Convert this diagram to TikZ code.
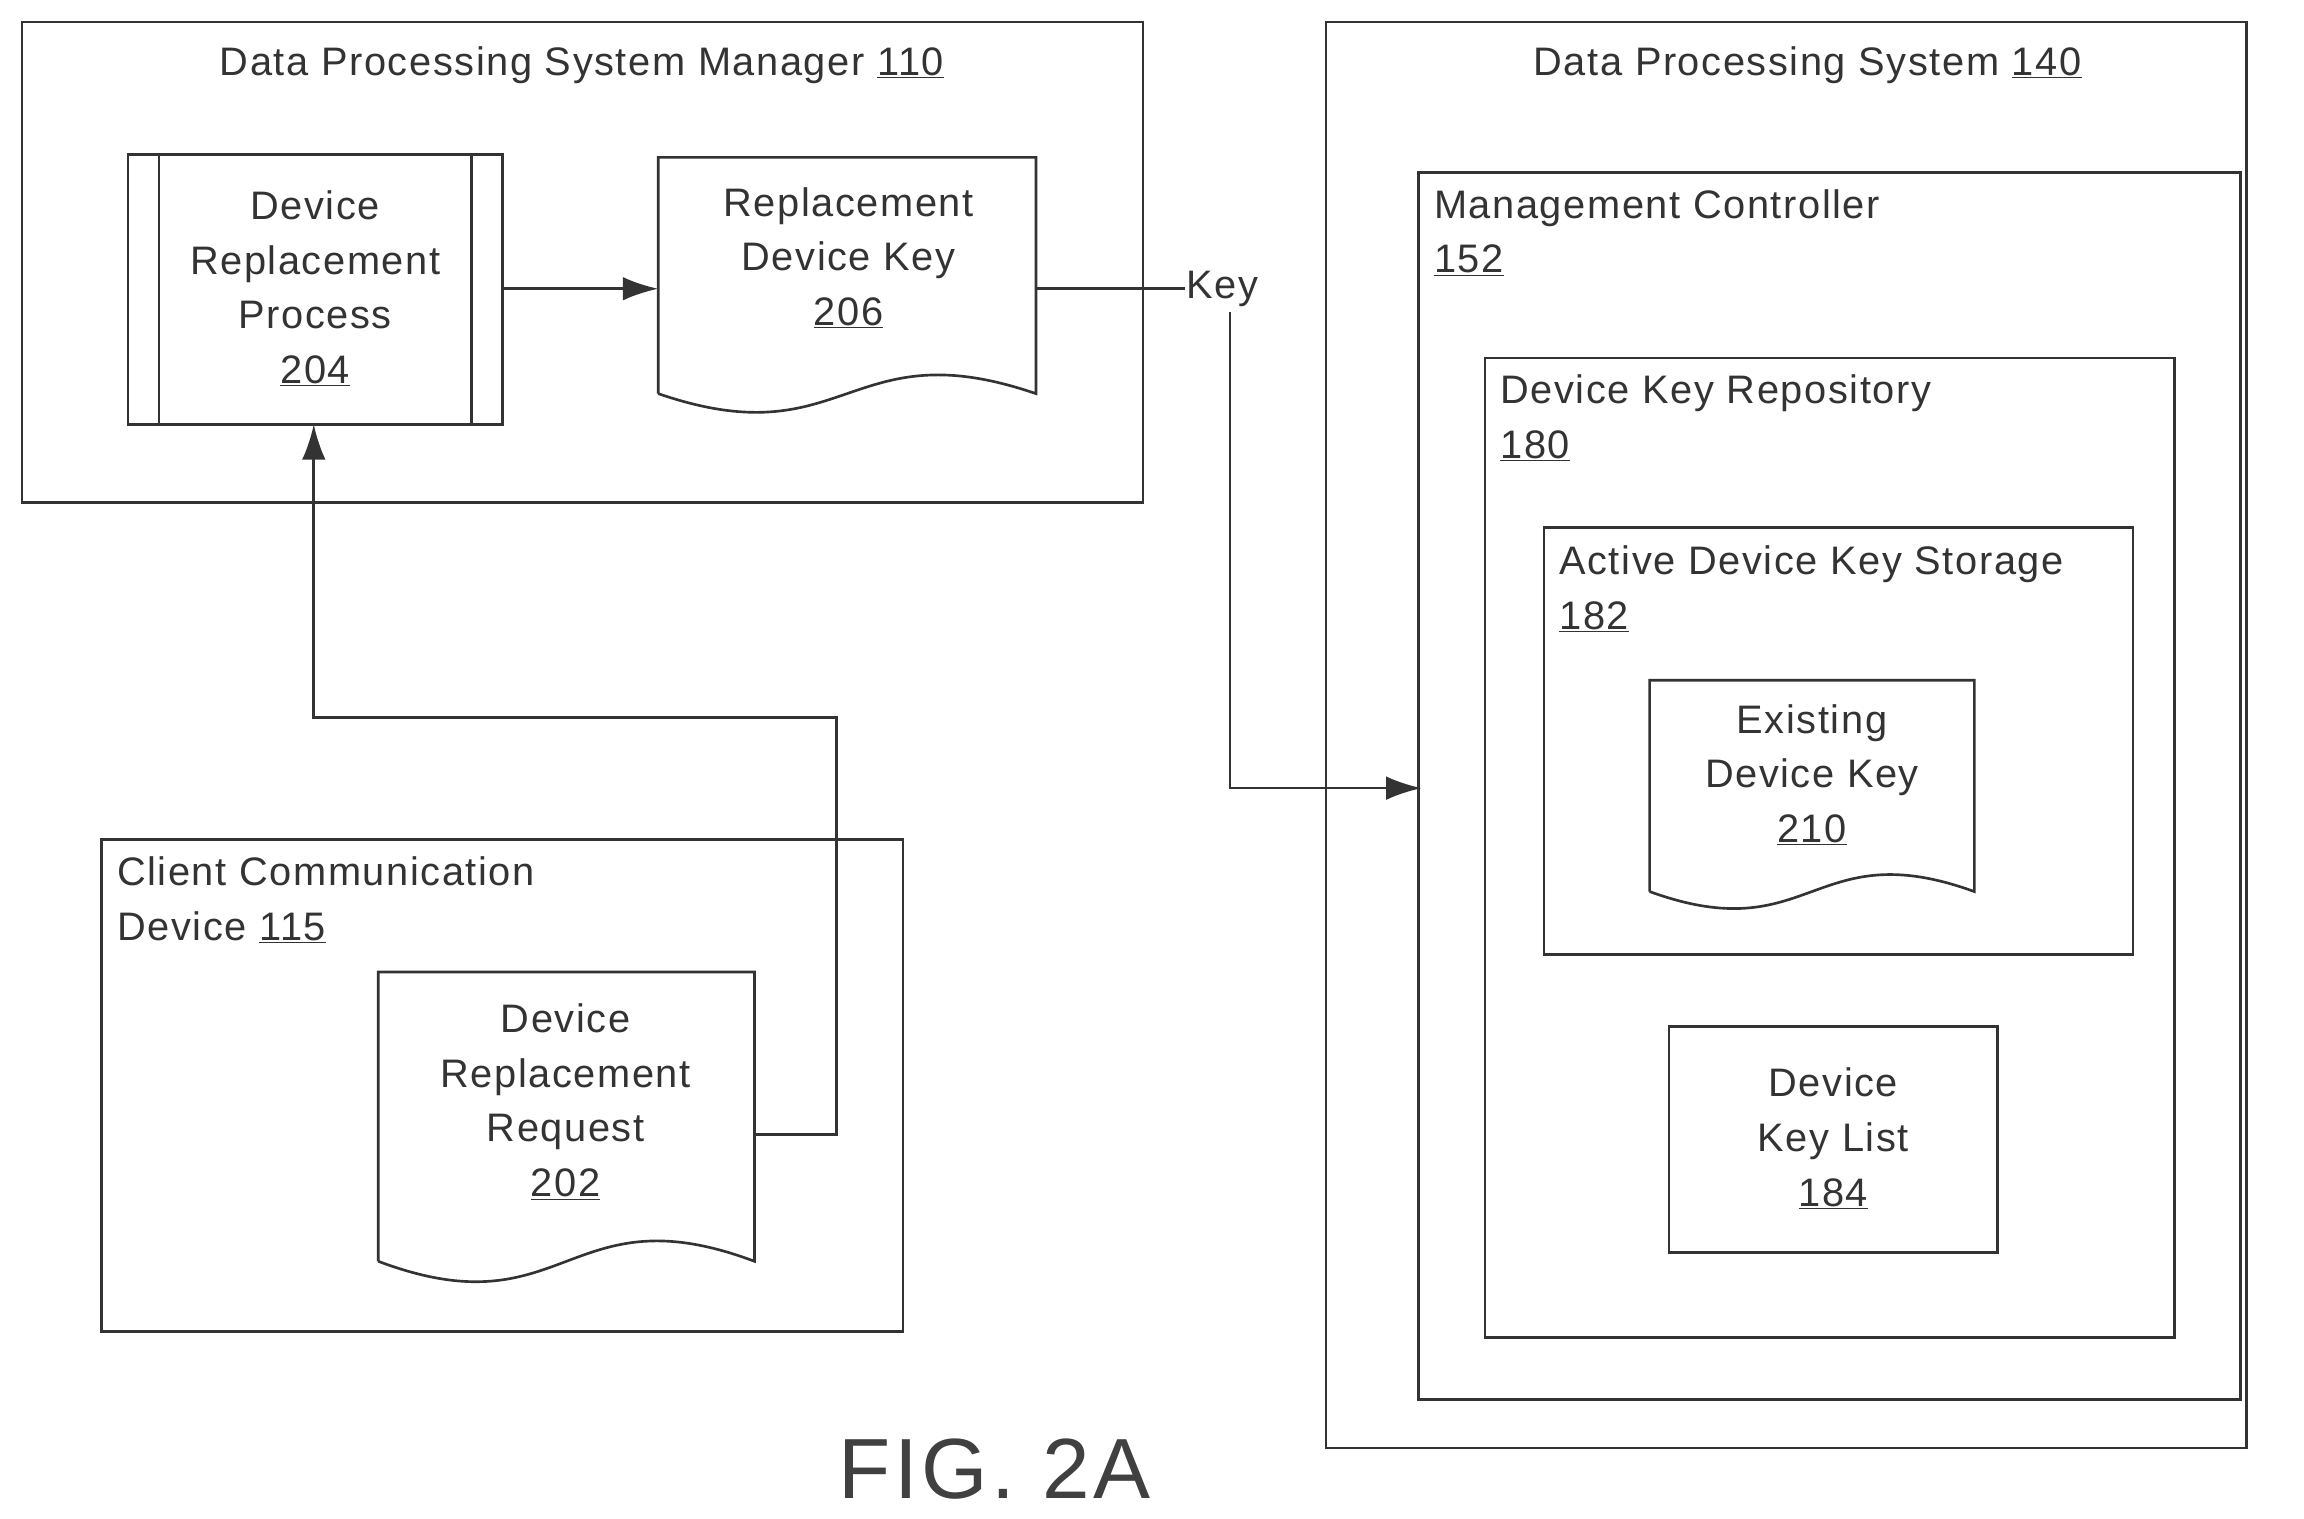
\documentclass[tikz,border=0pt]{standalone}
\usepackage{fontspec}
\setmainfont{Liberation Sans}[LetterSpace=4]
\usetikzlibrary{positioning, arrows.meta, calc}

\tikzset{
  box/.style={draw=black!80, line width=1.8pt},
  txt/.style={font=\fontsize{27}{37}\selectfont, align=center, text=black!80},
  ltxt/.style={font=\fontsize{27}{37}\selectfont, align=left, anchor=north west, text=black!80},
  doc/.style={minimum width=#1, inner sep=0pt, txt},
  link/.style={draw=black!80, line width=1.8pt},
  tip/.style={-{Latex[length=24pt,width=16pt]}}
}
% document outline with wavy bottom
\newcommand{\docpath}[2]{%
  \draw[box] (#1.south west) -- (#1.north west) -- (#1.north east) -- (#1.south east)
    .. controls ($(#1.south)+(0,-2*#2)$) and ($(#1.south)+(0,2*#2)$) .. (#1.south west);}

\begin{document}
\begin{tikzpicture}[x=1pt,y=-1pt]
  \useasboundingbox (0,0) rectangle (1564,1031);

  % manager
  \draw[box] (15,15) rectangle (776,341);
  \node[txt] (mgrT) at (395,44) {Data Processing System Manager \underline{110}};
  \draw[box] (87,105) rectangle (341,288);
  \draw[box] (108,105) -- (108,288) (320,105) -- (320,288);
  \node[txt] (proc) at (214,196) {Device\\Replacement\\Process\\\underline{204}};
  \coordinate (procE) at (341,196);
  \coordinate (procS) at (213,288);
  \node[doc=256pt, minimum height=160pt] (rkey) at (575,187) {};
  \docpath{rkey}{22}
  \node[txt] at (576,175) {Replacement\\Device Key\\\underline{206}};

  \draw[link,tip] (procE) -- (rkey.west |- procE);

  % client
  \draw[box] (69,570) rectangle (613,904);
  \node[ltxt] at (76,578) {Client Communication\\Device \underline{115}};
  \node[doc=255pt, minimum height=196pt] (req) at (384.5,758) {};
  \docpath{req}{24}
  \node[txt] at (384,748) {Device\\Replacement\\Request\\\underline{202}};

  \coordinate (c1) at (568,770);
  \draw[link,tip] (req.east |- c1) -- (c1) -- (568,487) -- (213,487) -- (procS);

  % data processing system
  \draw[box] (900,15) rectangle (1525,983);
  \node[txt] at (1227,44) {Data Processing System \underline{140}};
  \draw[box] (963,117) rectangle (1521,950);
  \node[ltxt] at (970,125) {Management Controller\\\underline{152}};
  \draw[box] (1008,243) rectangle (1476,908);
  \node[ltxt] at (1015,251) {Device Key Repository\\\underline{180}};
  \draw[box] (1048,358) rectangle (1448,648);
  \node[ltxt] at (1055,367) {Active Device Key Storage\\\underline{182}};
  \node[doc=220pt, minimum height=143pt] (ekey) at (1230,533.5) {};
  \docpath{ekey}{20}
  \node[txt] at (1230,526) {Existing\\Device Key\\\underline{210}};
  \draw[box] (1133,697) rectangle (1356,850);
  \node[txt] (klist) at (1244.5,773) {Device\\Key List\\\underline{184}};

  % key transfer
  \node[txt, inner sep=1pt] (key) at (830,196) {Key};
  \draw[link] (rkey.east |- key) -- (key.west);
  \coordinate (k1) at (835,535);
  \draw[link,tip] (835,212) -- (k1) -- (965,535);

  \node[font=\fontsize{58}{60}\selectfont, text=black!75] (fig) at (675,997) {FIG. 2A};
\end{tikzpicture}
\end{document}
